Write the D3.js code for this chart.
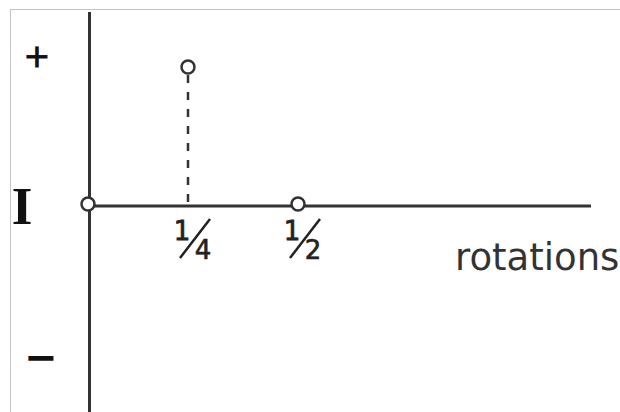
<!DOCTYPE html>
<html>
<head>
<meta charset="utf-8">
<script src="https://cdn.jsdelivr.net/npm/d3@7/dist/d3.min.js"></script>
<style>
  html, body { margin: 0; padding: 0; background: #fff; }
  svg { display: block; }
</style>
</head>
<body>
<svg id="chart" width="620" height="412"></svg>
<script>
// Current through the loop over half a rotation
const rotations = [0, 0.25, 0.5];
const current = [0, 1, 0];

// Tick marks on the rotation axis, written as stacked fractions
const tickValues = [0.25, 0.5];
const tickNumerators = ["1", "1"];
const tickDenominators = ["4", "2"];

const axisTitle = "rotations";
const currentSymbol = "I";
const positiveSign = "+";
const negativeSign = "\u2212";

const W = 620, H = 412;
const ink = "#333";

const svg = d3.select("#chart");

// Frame
svg.append("rect")
  .attr("x", 10.5).attr("y", 9.5)
  .attr("width", W).attr("height", H)
  .attr("fill", "none").attr("stroke", "#c4c4c4").attr("stroke-width", 1);

const x = d3.scaleLinear().domain([0, 0.25, 0.5]).range([88, 188, 298]);
const y = d3.scaleLinear().domain([0, 1]).range([205, 67]);

// Axes
svg.append("line")
  .attr("x1", 89.5).attr("x2", 89.5)
  .attr("y1", 12).attr("y2", H)
  .attr("stroke", ink).attr("stroke-width", 3);

svg.append("line")
  .attr("x1", x(0)).attr("x2", 591)
  .attr("y1", y(0) + 1).attr("y2", y(0) + 1)
  .attr("stroke", ink).attr("stroke-width", 3);

// Dropped line from each non-zero point to the axis
const pts = rotations.map((r, i) => ({ r, v: current[i] }));

svg.selectAll("line.drop")
  .data(pts.filter(d => d.v !== 0))
  .join("line")
  .attr("class", "drop")
  .attr("x1", d => x(d.r)).attr("x2", d => x(d.r))
  .attr("y1", d => y(d.v) + 8).attr("y2", y(0))
  .attr("stroke", ink).attr("stroke-width", 2.5)
  .attr("stroke-dasharray", "8,9");

// Points
svg.selectAll("circle.pt")
  .data(pts)
  .join("circle")
  .attr("class", "pt")
  .attr("cx", d => x(d.r))
  .attr("cy", d => y(d.v) - (d.v === 0 ? 1 : 0))
  .attr("r", 6.5)
  .attr("fill", "#fff")
  .attr("stroke", ink)
  .attr("stroke-width", 2.5);

// Fraction tick labels
const font = "'DejaVu Sans', Verdana, sans-serif";
const ticks = svg.selectAll("g.tick")
  .data(tickValues.map((v, i) => ({ v, n: tickNumerators[i], d: tickDenominators[i] })))
  .join("g")
  .attr("class", "tick")
  .attr("transform", d => `translate(${x(d.v)},0)`);

ticks.append("text")
  .attr("x", -6).attr("y", 240)
  .attr("text-anchor", "middle")
  .attr("font-family", font).attr("font-size", 26)
  .attr("fill", "#222").attr("stroke", "#222").attr("stroke-width", 0.8)
  .text(d => d.n);

ticks.append("line")
  .attr("x1", 22).attr("y1", 219)
  .attr("x2", -8).attr("y2", 258)
  .attr("stroke", "#222").attr("stroke-width", 2.5);

ticks.append("text")
  .attr("x", 15).attr("y", 259)
  .attr("text-anchor", "middle")
  .attr("font-family", font).attr("font-size", 26)
  .attr("fill", "#222").attr("stroke", "#222").attr("stroke-width", 0.6)
  .text(d => d.d);

// Axis title and sign labels
svg.append("text")
  .attr("x", 455).attr("y", 270)
  .attr("font-family", font).attr("font-size", 37)
  .attr("fill", "#333")
  .text(axisTitle);

svg.append("text")
  .attr("x", 22).attr("y", 224)
  .attr("text-anchor", "middle")
  .attr("font-family", "'Liberation Serif', 'Times New Roman', serif")
  .attr("font-size", 53).attr("font-weight", "bold")
  .attr("fill", "#111")
  .text(currentSymbol);

svg.append("text")
  .attr("x", 37).attr("y", y(1))
  .attr("text-anchor", "middle")
  .attr("font-family", font).attr("font-size", 32)
  .attr("fill", "#111").attr("stroke", "#111").attr("stroke-width", 0.9)
  .text(positiveSign);

svg.append("text")
  .attr("x", 41).attr("y", 371)
  .attr("text-anchor", "middle")
  .attr("font-family", font).attr("font-size", 40)
  .attr("font-weight", "bold")
  .attr("fill", "#111")
  .text(negativeSign);
</script>
</body>
</html>
